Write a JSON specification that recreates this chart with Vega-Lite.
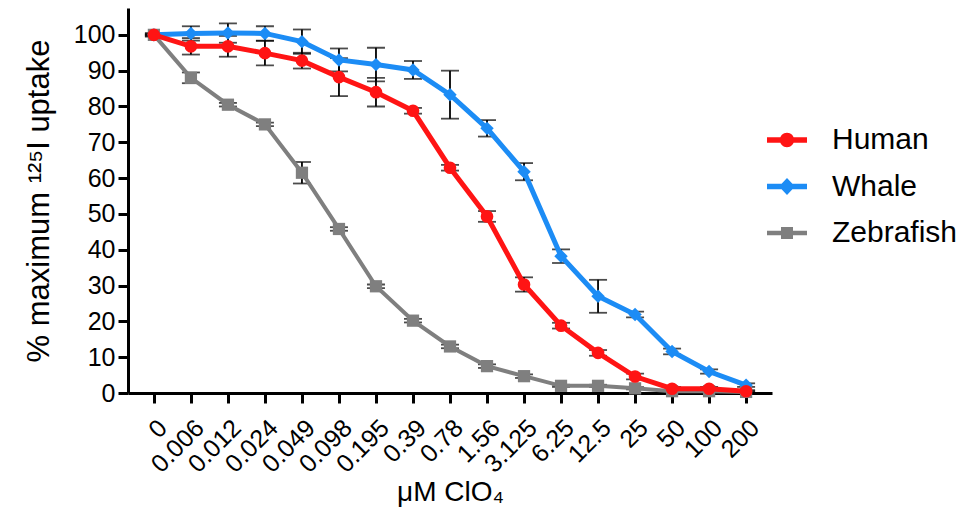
{
  "$schema": "https://vega.github.io/schema/vega-lite/v6.json",
  "width": 644,
  "height": 385,
  "autosize": {"type": "none"},
  "padding": {"left": 128, "top": 8, "right": 201, "bottom": 126},
  "background": "white",
  "config": {
    "view": {"stroke": null},
    "font": "Liberation Sans",
    "axis": {
      "grid": false,
      "domainColor": "black",
      "domainWidth": 3,
      "tickColor": "black",
      "tickWidth": 3,
      "tickSize": 10,
      "labelColor": "black",
      "titleColor": "black",
      "labelFont": "Liberation Sans",
      "titleFont": "Liberation Sans",
      "titleFontWeight": "normal"
    }
  },
  "data": {
    "values": [
      {"species": "Zebrafish", "conc": "0", "value": 100, "err": 0.5},
      {"species": "Zebrafish", "conc": "0.006", "value": 88, "err": 1.5},
      {"species": "Zebrafish", "conc": "0.012", "value": 80.5, "err": 0.5},
      {"species": "Zebrafish", "conc": "0.024", "value": 75, "err": 0.5},
      {"species": "Zebrafish", "conc": "0.049", "value": 61.5, "err": 3},
      {"species": "Zebrafish", "conc": "0.098", "value": 45.8, "err": 0.5},
      {"species": "Zebrafish", "conc": "0.195", "value": 29.8, "err": 0.5},
      {"species": "Zebrafish", "conc": "0.39", "value": 20.2, "err": 0.5},
      {"species": "Zebrafish", "conc": "0.78", "value": 13, "err": 0.5},
      {"species": "Zebrafish", "conc": "1.56", "value": 7.5, "err": 0.5},
      {"species": "Zebrafish", "conc": "3.125", "value": 4.7, "err": 0.5},
      {"species": "Zebrafish", "conc": "6.25", "value": 2, "err": 0.3},
      {"species": "Zebrafish", "conc": "12.5", "value": 2, "err": 0.3},
      {"species": "Zebrafish", "conc": "25", "value": 1.3, "err": 0.3},
      {"species": "Zebrafish", "conc": "50", "value": 0.5, "err": 0.2},
      {"species": "Zebrafish", "conc": "100", "value": 0.5, "err": 0.2},
      {"species": "Zebrafish", "conc": "200", "value": 0.3, "err": 0.2},
      {"species": "Whale", "conc": "0", "value": 100, "err": 0},
      {"species": "Whale", "conc": "0.006", "value": 100.4, "err": 2},
      {"species": "Whale", "conc": "0.012", "value": 100.5, "err": 2.7},
      {"species": "Whale", "conc": "0.024", "value": 100.4, "err": 2},
      {"species": "Whale", "conc": "0.049", "value": 98.1, "err": 3.4},
      {"species": "Whale", "conc": "0.098", "value": 93, "err": 3.2},
      {"species": "Whale", "conc": "0.195", "value": 91.7, "err": 4.7},
      {"species": "Whale", "conc": "0.39", "value": 90.2, "err": 2.5},
      {"species": "Whale", "conc": "0.78", "value": 83.3, "err": 6.7},
      {"species": "Whale", "conc": "1.56", "value": 73.9, "err": 2.3},
      {"species": "Whale", "conc": "3.125", "value": 61.8, "err": 2.4},
      {"species": "Whale", "conc": "6.25", "value": 38.2, "err": 1.9},
      {"species": "Whale", "conc": "12.5", "value": 27, "err": 4.6},
      {"species": "Whale", "conc": "25", "value": 21.9, "err": 0.8},
      {"species": "Whale", "conc": "50", "value": 11.6, "err": 0.8},
      {"species": "Whale", "conc": "100", "value": 6, "err": 0.6},
      {"species": "Whale", "conc": "200", "value": 2.2, "err": 0.5},
      {"species": "Human", "conc": "0", "value": 100, "err": 0.3},
      {"species": "Human", "conc": "0.006", "value": 96.8, "err": 2.3},
      {"species": "Human", "conc": "0.012", "value": 96.8, "err": 2.9},
      {"species": "Human", "conc": "0.024", "value": 94.9, "err": 3.4},
      {"species": "Human", "conc": "0.049", "value": 92.8, "err": 2.2},
      {"species": "Human", "conc": "0.098", "value": 88.2, "err": 5.3},
      {"species": "Human", "conc": "0.195", "value": 84, "err": 4},
      {"species": "Human", "conc": "0.39", "value": 78.8, "err": 0.8},
      {"species": "Human", "conc": "0.78", "value": 62.9, "err": 0.8},
      {"species": "Human", "conc": "1.56", "value": 49.3, "err": 1.5},
      {"species": "Human", "conc": "3.125", "value": 30.3, "err": 2},
      {"species": "Human", "conc": "6.25", "value": 18.8, "err": 0.8},
      {"species": "Human", "conc": "12.5", "value": 11.2, "err": 0.8},
      {"species": "Human", "conc": "25", "value": 4.6, "err": 0.8},
      {"species": "Human", "conc": "50", "value": 1.2, "err": 0.5},
      {"species": "Human", "conc": "100", "value": 1.2, "err": 0.5},
      {"species": "Human", "conc": "200", "value": 0.5, "err": 0.3}
    ]
  },
  "encoding": {
    "x": {
      "field": "conc",
      "type": "ordinal",
      "scale": {
        "type": "point",
        "padding": 0.7,
        "domain": ["0", "0.006", "0.012", "0.024", "0.049", "0.098", "0.195", "0.39", "0.78", "1.56", "3.125", "6.25", "12.5", "25", "50", "100", "200"]
      },
      "axis": {
        "title": "μM ClO₄",
        "titleFontSize": 28,
        "labelFontSize": 25,
        "labelAngle": -45,
        "labelPadding": 12,
        "titlePadding": 2
      }
    },
    "y": {
      "field": "value",
      "type": "quantitative",
      "scale": {"domain": [0, 107.5], "nice": false, "zero": true},
      "axis": {
        "title": "% maximum ¹²⁵I uptake",
        "titleFontSize": 31,
        "labelFontSize": 25,
        "values": [0, 10, 20, 30, 40, 50, 60, 70, 80, 90, 100],
        "labelPadding": 3,
        "titlePadding": 18
      }
    }
  },
  "layer": [
    {
      "mark": {"type": "errorbar", "ticks": true, "size": 18, "thickness": 1.8, "color": "black"},
      "encoding": {
        "x": {"field": "conc", "type": "ordinal"},
        "y": {"field": "value", "type": "quantitative"},
        "yError": {"field": "err"}
      }
    },
    {
      "transform": [{"filter": "datum.species === 'Zebrafish'"}],
      "layer": [
        {
          "mark": {"type": "line", "strokeWidth": 4},
          "encoding": {
            "color": {
              "field": "species",
              "type": "nominal",
              "scale": {"domain": ["Human", "Whale", "Zebrafish"], "range": ["#ff1414", "#1c8cf5", "#7f7f7f"]},
              "legend": {
                "title": null,
                "orient": "none",
                "legendX": 639,
                "legendY": 112,
                "padding": 0,
                "symbolSize": 1600,
                "symbolStrokeWidth": 0,
                "labelFontSize": 30,
                "labelFont": "Liberation Sans",
                "labelColor": "black",
                "labelOffset": 25,
                "rowPadding": 11.5,
                "encode": {
                  "symbols": {
                    "update": {
                      "shape": {"signal": "datum.value === 'Human' ? 'M-1,-0.14H1V0.14H-1Z M0,-0.36A0.36,0.36,0,1,1,0,0.36A0.36,0.36,0,1,1,0,-0.36Z' : datum.value === 'Whale' ? 'M-1,-0.14H1V0.14H-1Z M0,-0.42L0.4,0L0,0.42L-0.4,0Z' : 'M-1,-0.11H1V0.11H-1Z M-0.3,-0.3H0.3V0.3H-0.3Z'"},
                      "fill": {"signal": "datum.value === 'Human' ? '#ff1414' : datum.value === 'Whale' ? '#1c8cf5' : '#7f7f7f'"},
                      "opacity": {"value": 1},
                      "strokeWidth": {"value": 0}
                    }
                  }
                }
              }
            }
          }
        },
        {
          "mark": {"type": "point", "filled": true, "opacity": 1, "size": 150, "shape": "square"},
          "encoding": {
            "color": {"field": "species", "type": "nominal"}
          }
        }
      ]
    },
    {
      "transform": [{"filter": "datum.species === 'Whale'"}],
      "layer": [
        {
          "mark": {"type": "line", "strokeWidth": 5},
          "encoding": {
            "color": {"field": "species", "type": "nominal"}
          }
        },
        {
          "mark": {"type": "point", "filled": true, "opacity": 1, "size": 180, "shape": "diamond"},
          "encoding": {
            "color": {"field": "species", "type": "nominal"}
          }
        }
      ]
    },
    {
      "transform": [{"filter": "datum.species === 'Human'"}],
      "layer": [
        {
          "mark": {"type": "line", "strokeWidth": 5},
          "encoding": {
            "color": {"field": "species", "type": "nominal"}
          }
        },
        {
          "mark": {"type": "point", "filled": true, "opacity": 1, "size": 160, "shape": "circle"},
          "encoding": {
            "color": {"field": "species", "type": "nominal"}
          }
        }
      ]
    }
  ]
}
